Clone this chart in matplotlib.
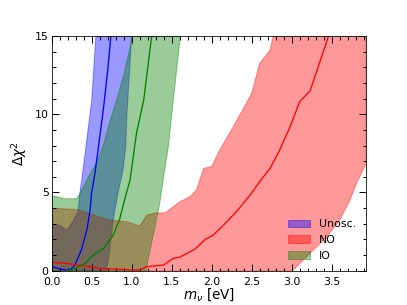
import numpy as np
import matplotlib
matplotlib.use("Agg")
import matplotlib.pyplot as plt
from matplotlib.ticker import MultipleLocator

# ===== data (m_nu in eV, delta chi^2) =====
# Unosc. 1 sigma band
m_unosc = [0.0, 0.1, 0.19, 0.27, 0.33, 0.35, 0.375, 0.44, 0.5, 0.555, 0.6,
           0.68, 0.71, 0.77, 0.83, 0.89, 0.925, 0.94, 1.0, 1.05]
unosc_lo = [0.0, 0.0, 0.0, 0.0, 0.0, 0.0, 0.0, 0.0, 0.0, 0.0, 0.0,
            0.0, 0.7, 3.3, 5.0, 6.4, 7.9, 10.0, 15.0, 18.0]
unosc_hi = [3.0, 2.9, 2.6, 3.2, 3.8, 4.9, 5.8, 8.4, 10.9, 15.2, 18.0,
            20.0, 20.0, 20.0, 20.0, 20.0, 20.0, 20.0, 20.0, 20.0]

# NO 1 sigma band
m_no = [0.0, 0.33, 0.5, 0.71, 0.94, 1.10, 1.19, 1.31, 1.42, 1.60, 1.73,
        1.81, 1.90, 2.0, 2.10, 2.27, 2.5, 2.6, 2.73, 2.77, 2.85, 3.0,
        3.02, 3.23, 3.44, 3.6, 3.73, 3.81, 3.93]
no_lo = [0.0, 0.0, 0.0, 0.0, 0.0, 0.0, 0.0, 0.0, 0.0, 0.0, 0.0,
         0.0, 0.0, 0.0, 0.0, 0.0, 0.0, 0.0, 0.0, 0.0, 0.0, 0.0,
         0.04, 1.11, 2.17, 3.24, 4.52, 5.58, 6.86]
no_hi = [4.0, 3.9, 3.6, 3.25, 3.13, 2.86, 3.56, 3.7, 3.7, 4.4, 4.73,
         5.16, 6.54, 6.65, 7.71, 9.2, 11.33, 13.25, 14.1, 15.0, 16.5, 18.0,
         18.0, 20.0, 20.0, 20.0, 20.0, 20.0, 20.0]

# IO 1 sigma band
m_io = [0.0, 0.17, 0.31, 0.35, 0.46, 0.56, 0.65, 0.73, 0.81, 0.9, 0.98,
        1.02, 1.1, 1.18, 1.19, 1.23, 1.31, 1.35, 1.40, 1.46, 1.52, 1.61, 1.65]
io_lo = [0.0, 0.0, 0.0, 0.0, 0.0, 0.0, 0.0, 0.0, 0.0, 0.0, 0.0,
         0.0, 0.0, 0.0, 0.26, 1.32, 3.24, 4.3, 6.0, 8.0, 10.9, 15.0, 16.0]
io_hi = [4.8, 4.6, 4.6, 4.9, 6.0, 6.9, 8.1, 9.6, 10.9, 12.5, 14.3,
         15.5, 20.0, 20.0, 20.0, 20.0, 20.0, 20.0, 20.0, 20.0, 20.0, 20.0, 20.0]

# central curves
m_unosc_c = [0.0, 0.1, 0.17, 0.23, 0.29, 0.37, 0.44, 0.48, 0.5, 0.54, 0.6,
             0.65, 0.7, 0.74]
unosc_c = [0.26, 0.12, 0.04, 0.04, 0.36, 1.32, 2.6, 3.88, 5.0, 6.2, 8.5,
           10.5, 12.8, 15.0]

m_no_c = [0.0, 0.17, 0.33, 0.48, 0.58, 0.8, 1.0, 1.10, 1.19, 1.27, 1.40,
          1.52, 1.60, 1.73, 1.79, 1.92, 2.02, 2.15, 2.31, 2.48, 2.63, 2.73,
          2.85, 2.98, 3.10, 3.23, 3.33, 3.46]
no_c = [0.54, 0.47, 0.36, 0.26, 0.15, 0.1, 0.05, 0.05, 0.26, 0.30, 0.36,
        0.79, 0.86, 1.21, 1.37, 2.0, 2.28, 2.92, 3.77, 4.84, 5.9, 6.54,
        7.71, 9.2, 10.8, 11.5, 13.0, 15.0]

m_io_c = [0.19, 0.25, 0.42, 0.52, 0.65, 0.77, 0.85, 0.92, 0.98, 1.06, 1.15, 1.25]
io_c = [0.0, 0.04, 0.47, 1.0, 1.43, 2.28, 3.3, 4.7, 5.8, 8.78, 10.9, 15.0]

fig = plt.figure(figsize=(407 / 72, 305 / 72), dpi=72)
ax = fig.add_axes([0.127, 0.1125, 0.7715, 0.7695])

# ===== bands (order matters for the overlap colours) =====
ax.fill_between(m_unosc, unosc_lo, unosc_hi, color='b', alpha=0.4, label='Unosc.')
ax.fill_between(m_no, no_lo, no_hi, color='r', alpha=0.4, label='NO')
ax.fill_between(m_io, io_lo, io_hi, color='g', alpha=0.4, label='IO')

# ===== central lines =====
ax.plot(m_unosc_c, unosc_c, color='b', lw=1.3)
ax.plot(m_no_c, no_c, color='r', lw=1.3)
ax.plot(m_io_c, io_c, color='g', lw=1.3)

ax.set_xlim(0, 3.925)
ax.set_ylim(0, 15)
ax.xaxis.set_major_locator(MultipleLocator(0.5))
ax.xaxis.set_minor_locator(MultipleLocator(0.1))
ax.yaxis.set_major_locator(MultipleLocator(5))
ax.yaxis.set_minor_locator(MultipleLocator(1))
ax.tick_params(which='both', direction='in', top=True, right=True, labelsize=11)
ax.tick_params(which='major', length=7, width=1)
ax.tick_params(which='minor', length=3.5, width=1)
ax.tick_params(axis='x', which='major', pad=6)
ax.tick_params(axis='y', which='major', pad=3)

ax.set_xlabel(r'$m_\nu$ [eV]', fontsize=13.5, labelpad=0)
ax.set_ylabel(r'$\Delta\chi^2$', fontsize=13.5, labelpad=6)

ax.legend(loc='lower right', frameon=False, fontsize=11, labelspacing=0.52)

fig.savefig('out.png', dpi=72)
